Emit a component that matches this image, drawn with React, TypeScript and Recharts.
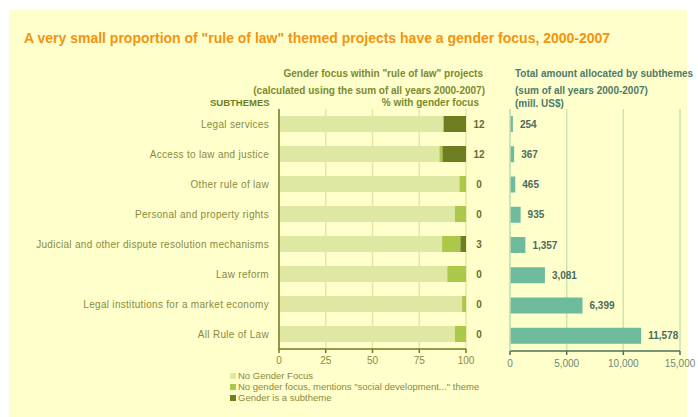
import React from "react";
import { BarChart, Bar, XAxis, YAxis, CartesianGrid, LabelList } from "recharts";

const subthemes = [
  "Legal services",
  "Access to law and justice",
  "Other rule of law",
  "Personal and property rights",
  "Judicial and other dispute resolution mechanisms",
  "Law reform",
  "Legal institutions for a market economy",
  "All Rule of Law",
];
const noGenderFocus = [88, 85.8, 96.5, 94.1, 87.2, 90, 97.9, 94.1];
const socialDevelopment = [0, 1.6, 3.5, 5.9, 9.8, 10, 2.1, 5.9];
const genderSubtheme = [12, 12.6, 0, 0, 3, 0, 0, 0];
const genderPctLabels = [12, 12, 0, 0, 3, 0, 0, 0];
const totalAmount = [254, 367, 465, 935, 1357, 3081, 6399, 11578];
const pctTicks = [0, 25, 50, 75, 100];
const amountTicks = [0, 5000, 10000, 15000];

const legendItems = [
  { label: "No Gender Focus", color: "#dfe8a2" },
  { label: 'No gender focus, mentions "social development..." theme', color: "#abc84a" },
  { label: "Gender is a subtheme", color: "#6e7d1f" },
];

const genderData = subthemes.map((name, i) => ({
  name,
  none: noGenderFocus[i],
  social: socialDevelopment[i],
  gender: genderSubtheme[i],
}));

const amountData = subthemes.map((name, i) => ({ name, total: totalAmount[i] }));

const FONT = "'Liberation Sans', Arial, sans-serif";

// label sits right of the 100% mark, computed from the "none" bar geometry
const PctLabel = (props: any) => {
  const { x, y, width, height, index } = props;
  const end = x + (width * 100) / noGenderFocus[index];
  return (
    <text
      x={end + 13}
      y={y + height / 2}
      dy={3.5}
      textAnchor="middle"
      fontSize={10}
      fontWeight="bold"
      fill="#6b6b2e"
      fontFamily={FONT}
    >
      {genderPctLabels[index]}
    </text>
  );
};

const AmountLabel = (props: any) => {
  const { x, y, width, height, value } = props;
  return (
    <text
      x={x + width + 7}
      y={y + height / 2}
      dy={3.5}
      textAnchor="start"
      fontSize={10}
      fontWeight="bold"
      fill="#4d6b5c"
      fontFamily={FONT}
    >
      {Number(value).toLocaleString("en-US")}
    </text>
  );
};

const CategoryTick = (props: any) => {
  const { x, y, payload } = props;
  return (
    <text
      x={x}
      y={y}
      dy={3.5}
      textAnchor="end"
      fontSize={10}
      letterSpacing={0.3}
      fill="#8a8a3e"
      fontFamily={FONT}
    >
      {payload.value}
    </text>
  );
};

const txt = (
  left: number,
  top: number,
  text: string,
  color: string,
  size = 10,
  bold = true,
  align: "left" | "right" = "left"
) => (
  <div
    style={{
      position: "absolute",
      ...(align === "left" ? { left } : { right: 698 - left }),
      top,
      fontSize: size,
      fontWeight: bold ? "bold" : "normal",
      color,
      whiteSpace: "nowrap",
      lineHeight: 1,
      fontFamily: FONT,
    }}
  >
    {text}
  </div>
);

export default function App() {
  return (
    <div
      style={{
        position: "fixed",
        left: 0,
        top: 0,
        width: 698,
        height: 417,
        background: "#fff",
        fontFamily: FONT,
        overflow: "hidden",
      }}
    >
      <div
        style={{
          position: "absolute",
          left: 9,
          top: 10,
          width: 678,
          height: 407,
          background: "#ffffcc",
        }}
      />
      {txt(24, 31, 'A very small proportion of "rule of law" themed projects have a gender focus, 2000-2007', "#f39410", 14)}
      {txt(483, 69, 'Gender focus within "rule of law" projects', "#7b8a30", 10, true, "right")}
      {txt(485, 86, "(calculated using the sum of all years 2000-2007)", "#7b8a30", 10, true, "right")}
      {txt(210, 98, "SUBTHEMES", "#6e7d1f", 9.5)}
      {txt(479, 98, "% with gender focus", "#7b8a30", 10, true, "right")}
      {txt(515, 69, "Total amount allocated by subthemes", "#4f7a68", 10)}
      {txt(515, 86, "(sum of all years 2000-2007)", "#4f7a68", 10)}
      {txt(515, 99, "(mill. US$)", "#4f7a68", 10)}

      <div style={{ position: "absolute", left: 0, top: 100 }}>
        <BarChart
          width={500}
          height={280}
          data={genderData}
          layout="vertical"
          margin={{ top: 9, right: 34, bottom: 11, left: 0 }}
          barSize={16}
        >
          <CartesianGrid horizontal={false} stroke="#e3e7a4" strokeWidth={1.5} />
          <XAxis
            type="number"
            domain={[0, 100]}
            ticks={pctTicks}
            axisLine={{ stroke: "#6e7d1f", strokeWidth: 1.5 }}
            tickLine={{ stroke: "#6e7d1f", strokeWidth: 1.5 }}
            tickSize={4}
            tickMargin={4}
            height={20}
            tick={{ fill: "#8a8a3e", fontSize: 10, fontFamily: FONT }}
          />
          <YAxis
            type="category"
            dataKey="name"
            width={279}
            tickLine={false}
            tickSize={0}
            tickMargin={10}
            axisLine={{ stroke: "#6e7d1f", strokeWidth: 1.5 }}
            tick={<CategoryTick />}
            interval={0}
          />
          <Bar dataKey="none" stackId="g" fill="#dfe8a2" isAnimationActive={false}>
            <LabelList dataKey="none" content={<PctLabel />} />
          </Bar>
          <Bar dataKey="social" stackId="g" fill="#abc84a" isAnimationActive={false} />
          <Bar dataKey="gender" stackId="g" fill="#6e7d1f" isAnimationActive={false} />
        </BarChart>
      </div>

      <div style={{ position: "absolute", left: 500, top: 100 }}>
        <BarChart
          width={198}
          height={280}
          data={amountData}
          layout="vertical"
          margin={{ top: 9, right: 18, bottom: 9, left: 0 }}
          barSize={16}
          style={{ overflow: "visible" }}
        >
          <CartesianGrid horizontal={false} stroke="#c9e3b3" strokeWidth={1.5} />
          <XAxis
            type="number"
            domain={[0, 15000]}
            ticks={amountTicks}
            tickFormatter={(v) => Number(v).toLocaleString("en-US")}
            axisLine={{ stroke: "#4a7057", strokeWidth: 1.5 }}
            tickLine={{ stroke: "#4a7057", strokeWidth: 1.5 }}
            tickSize={4}
            tickMargin={5}
            height={20}
            interval={0}
            tick={{ fill: "#6b8a78", fontSize: 10, fontFamily: FONT }}
          />
          <YAxis
            type="category"
            dataKey="name"
            width={10}
            tick={false}
            tickLine={false}
            axisLine={{ stroke: "#c9e3b3", strokeWidth: 1.5 }}
          />
          <Bar dataKey="total" fill="#6dbb9c" isAnimationActive={false}>
            <LabelList dataKey="total" content={<AmountLabel />} />
          </Bar>
        </BarChart>
      </div>

      {legendItems.map((item, i) => (
        <div
          key={item.label}
          style={{
            position: "absolute",
            left: 230,
            top: 370 + i * 11,
            display: "flex",
            alignItems: "center",
            fontSize: 9.5,
            color: "#8a8a3e",
            whiteSpace: "nowrap",
            lineHeight: "11px",
          }}
        >
          <span
            style={{
              display: "inline-block",
              width: 6,
              height: 6,
              background: item.color,
              marginRight: 2,
            }}
          />
          {item.label}
        </div>
      ))}
    </div>
  );
}
